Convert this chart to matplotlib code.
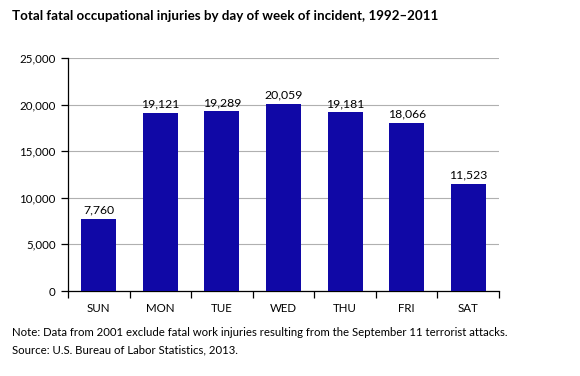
import numpy as np
import matplotlib.pyplot as plt
from matplotlib.ticker import FuncFormatter

days = ["SUN", "MON", "TUE", "WED", "THU", "FRI", "SAT"]
injuries = [7760, 19121, 19289, 20059, 19181, 18066, 11523]
yticks = [0, 5000, 10000, 15000, 20000, 25000]

plt.rcParams['font.family'] = ['Lato', 'DejaVu Sans']

fig = plt.figure(figsize=(5.8, 3.76), dpi=100)
ax = fig.add_axes([68/580, 1-291/376, 431/580, 233/376])

x = np.arange(len(days))
ax.bar(x, injuries, width=0.57, color='#1008a6', zorder=3)
for xi, v in zip(x, injuries):
    ax.text(xi, v + 350, f"{v:,}", ha='center', va='bottom', fontsize=8.8, color='black')

ax.set_xlim(-0.5, len(days) - 0.5)
ax.set_ylim(0, 25000)
ax.set_yticks(yticks)
ax.yaxis.set_major_formatter(FuncFormatter(lambda v, p: f"{int(v):,}"))
ax.grid(axis='y', color='#b0b0b0', linewidth=0.8, zorder=0)

ax.set_xticks(x)
ax.set_xticklabels(days)
ax.set_xticks(np.arange(-0.5, len(days)), minor=True)
ax.tick_params(axis='x', which='major', length=0, pad=9, labelsize=8.3)
ax.tick_params(axis='x', which='minor', length=5, width=0.9, direction='out')
ax.tick_params(axis='y', length=5, width=0.9, direction='out', labelsize=8.3, pad=4)

for s in ['top', 'right']:
    ax.spines[s].set_visible(False)
for s in ['left', 'bottom']:
    ax.spines[s].set_linewidth(0.9)

fig.text(12/580, 1-16/376, "Total fatal occupational injuries by day of week of incident, 1992\u20132011",
         fontsize=9.6, fontweight='bold', va='center', ha='left')
fig.text(12/580, 1-333/376, "Note: Data from 2001 exclude fatal work injuries resulting from the September 11 terrorist attacks.",
         fontsize=8.2, va='center', ha='left')
fig.text(12/580, 1-350/376, "Source: U.S. Bureau of Labor Statistics, 2013.",
         fontsize=8.2, va='center', ha='left')

fig.savefig("out.png", dpi=100)
